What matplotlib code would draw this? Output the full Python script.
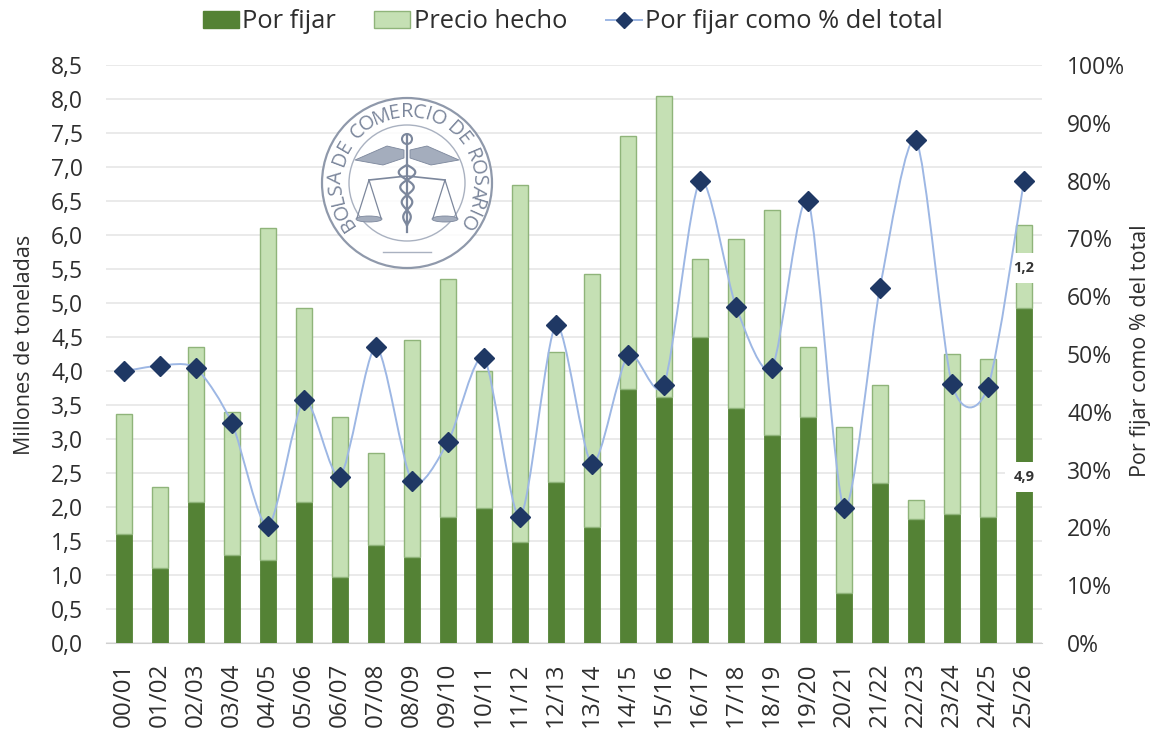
import numpy as np
import matplotlib
matplotlib.use("Agg")
import matplotlib.pyplot as plt
from matplotlib.path import Path
from matplotlib.patches import PathPatch, Circle, Polygon, Ellipse
from matplotlib.lines import Line2D
from matplotlib.ticker import MultipleLocator, FuncFormatter

plt.rcParams['font.family'] = ['Open Sans', 'DejaVu Sans']

campanas = ['00/01','01/02','02/03','03/04','04/05','05/06','06/07','07/08','08/09','09/10',
            '10/11','11/12','12/13','13/14','14/15','15/16','16/17','17/18','18/19','19/20',
            '20/21','21/22','22/23','23/24','24/25','25/26']
por_fijar = [1.60,1.10,2.08,1.30,1.22,2.08,0.97,1.44,1.26,1.86,1.98,1.48,2.37,1.70,3.74,3.62,4.50,3.46,3.06,3.33,0.74,2.35,1.83,1.90,1.86,4.93]
precio_hecho = [1.77,1.19,2.27,2.10,4.88,2.85,2.36,1.35,3.20,3.49,2.02,5.26,1.91,3.72,3.72,4.42,1.15,2.48,3.31,1.02,2.43,1.45,0.27,2.35,2.32,1.22]
pct_por_fijar = [47,48,47.5,38,20.2,42,28.8,51.2,28,34.8,49.3,21.8,55,31,49.8,44.7,80,58.2,47.6,76.5,23.4,61.5,87,44.8,44.3,80]
etiquetas_ultima = ['4,9','1,2']

W, H = 1152, 733
fig = plt.figure(figsize=(W/100, H/100), dpi=100)
L, R, T, B = 106, 1042, 65, 643
ax = fig.add_axes([L/W, 1-B/H, (R-L)/W, (B-T)/H])
x = np.arange(len(campanas))
DARK, LIGHT, LIGHT_E, BLUE, NAVY = '#548235', '#C5E0B4', '#8FB47A', '#9DB7E4', '#1F3864'
TXT = '#2e2e2e'

ax.bar(x, por_fijar, width=0.46, color=DARK, edgecolor=DARK, linewidth=0.6, zorder=3)
ax.bar(x, precio_hecho, bottom=por_fijar, width=0.46, color=LIGHT, edgecolor=LIGHT_E, linewidth=1.0, zorder=3)
ax.set_xlim(-0.5, len(x)-0.5)
ax.set_ylim(0, 8.5)
ax.yaxis.set_major_locator(MultipleLocator(0.5))
ax.yaxis.set_major_formatter(FuncFormatter(lambda v, p: f'{v:.1f}'.replace('.', ',')))
ax.set_xticks(x)
ax.set_xticklabels(campanas, rotation=90, fontsize=17.5, color=TXT)
ax.tick_params(axis='y', length=0, labelsize=16.5, labelcolor=TXT, pad=16.5)
ax.tick_params(axis='x', length=0, pad=14)
ax.grid(axis='y', color='#E8E8E8', linewidth=1.3, zorder=0)
ax.set_axisbelow(True)
for s in ['top', 'left', 'right']:
    ax.spines[s].set_visible(False)
ax.spines['bottom'].set_color('#D0D0D0')
ax.set_ylabel('Millones de toneladas', fontsize=15.5, color=TXT)
ax.yaxis.set_label_coords((35-L)/(R-L), 0.515)

ax2 = ax.twinx()
ax2.set_ylim(0, 100)
ax2.yaxis.set_major_locator(MultipleLocator(10))
ax2.yaxis.set_major_formatter(FuncFormatter(lambda v, p: f'{v:.0f}%'))
ax2.tick_params(axis='y', length=0, labelsize=16.5, labelcolor=TXT, pad=18)
for s in ax2.spines.values():
    s.set_visible(False)
ax2.set_ylabel('Por fijar como % del total', fontsize=15.5, color=TXT)
ax2.yaxis.set_label_coords((1130-L)/(R-L), 0.505)

# Smoothed line (Bezier through the values)
y = np.array(pct_por_fijar, dtype=float)
verts = [(x[0], y[0])]
codes = [Path.MOVETO]
n = len(x)
k = 0.13
for i in range(n-1):
    p0 = (x[max(i-1, 0)], y[max(i-1, 0)])
    p1 = (x[i], y[i])
    p2 = (x[i+1], y[i+1])
    p3 = (x[min(i+2, n-1)], y[min(i+2, n-1)])
    c1 = (p1[0]+(p2[0]-p0[0])*k, p1[1]+(p2[1]-p0[1])*k)
    c2 = (p2[0]-(p3[0]-p1[0])*k, p2[1]-(p3[1]-p1[1])*k)
    verts += [c1, c2, p2]
    codes += [Path.CURVE4]*3
ax2.add_patch(PathPatch(Path(verts, codes), facecolor='none', edgecolor=BLUE, linewidth=1.4, zorder=4))
ax2.plot(x, y, linestyle='none', marker='D', markersize=10.5, color=NAVY, zorder=5)

# data labels of the last campaign
bottoms = [0, por_fijar[-1]]
for lab, bot, h in zip(etiquetas_ultima, bottoms, [por_fijar[-1], precio_hecho[-1]]):
    ax2.annotate(lab, (x[-1], (bot+h/2)/8.5*100), xytext=(0, -1.5), textcoords='offset points',
                 ha='center', va='center', fontsize=10.5, fontweight='bold', color='#333333', zorder=3.5,
                 bbox=dict(facecolor='white', edgecolor='none', boxstyle='square,pad=0.55'))
ax.set_zorder(1); ax2.set_zorder(2); ax2.patch.set_alpha(0)

# Legend
handles = [plt.Rectangle((0,0),1,1,facecolor=DARK,edgecolor=DARK),
           plt.Rectangle((0,0),1,1,facecolor=LIGHT,edgecolor=LIGHT_E),
           Line2D([0],[0],color=BLUE,lw=1.4,marker='D',markersize=8.5,
                  markerfacecolor=NAVY,markeredgecolor=NAVY)]
fig.legend(handles, ['Por fijar','Precio hecho','Por fijar como % del total'], loc='center',
           bbox_to_anchor=(573/W, 1-22/H), ncol=3, frameon=False, fontsize=18.4, labelcolor=TXT,
           handlelength=1.4, handleheight=0.65, handletextpad=0.15, columnspacing=1.5)

# Logo seal, in pixel coordinates
lg = fig.add_axes([0, 0, 1, 1], zorder=3)
lg.set_xlim(0, W); lg.set_ylim(H, 0); lg.axis('off'); lg.patch.set_alpha(0)
cx, cy, col = 407, 183, '#7C879C'
lg.add_patch(Circle((cx, cy), 85, fc='#ffffff', ec=col, lw=1.6, alpha=0.85))
lg.add_patch(Circle((cx, cy), 58, fc='none', ec='#A9B1C0', lw=1.0))
word = 'BOLSA DE COMERCIO DE ROSARIO'
anch = {'I': 0.5, ' ': 0.55, 'L': 0.85, 'M': 1.35, 'O': 1.15, 'C': 1.05, 'D': 1.1, 'R': 1.0}
pesos = np.array([anch.get(c, 0.95) for c in word])
bordes = np.concatenate([[0], np.cumsum(pesos)])
centros = (bordes[:-1]+bordes[1:])/2
angs = 218 - centros/bordes[-1]*256
for ch, a in zip(word, angs):
    r = 71
    lg.text(cx+r*np.cos(np.radians(a)), cy-r*np.sin(np.radians(a)), ch, fontsize=14.5, color=col,
            rotation=a-90, rotation_mode='anchor', ha='center', va='center')
# staff, wings, scales
lg.plot([cx, cx], [135, 232], color=col, lw=1.6)
lg.add_patch(Circle((cx, 139), 5, fc='none', ec=col, lw=1.5))
for sgn in (-1, 1):
    lg.add_patch(Polygon([(cx+sgn*3,150),(cx+sgn*20,146),(cx+sgn*52,160),(cx+sgn*24,165),(cx+sgn*3,158)], fc='#A4ADBD', ec=col, lw=0.6))
    lg.plot([cx, cx+sgn*38], [176, 180], color=col, lw=1.2)
    px = cx+sgn*38
    lg.plot([px, px-12], [180, 218], color=col, lw=0.9)
    lg.plot([px, px+12], [180, 218], color=col, lw=0.9)
    lg.add_patch(Ellipse((px, 219), 26, 6, fc='#A4ADBD', ec=col, lw=0.6))
tt = np.linspace(165, 225, 120)
lg.plot(cx+9*np.sin((tt-165)/60*4*np.pi)*(1-(tt-165)/90), tt, color=col, lw=1.6)
lg.plot(cx-9*np.sin((tt-165)/60*4*np.pi)*(1-(tt-165)/90), tt, color=col, lw=1.6)
lg.plot([cx-24, cx+24], [252, 252], color='#A9B1C0', lw=1.0)

fig.savefig('out.png', dpi=100)
